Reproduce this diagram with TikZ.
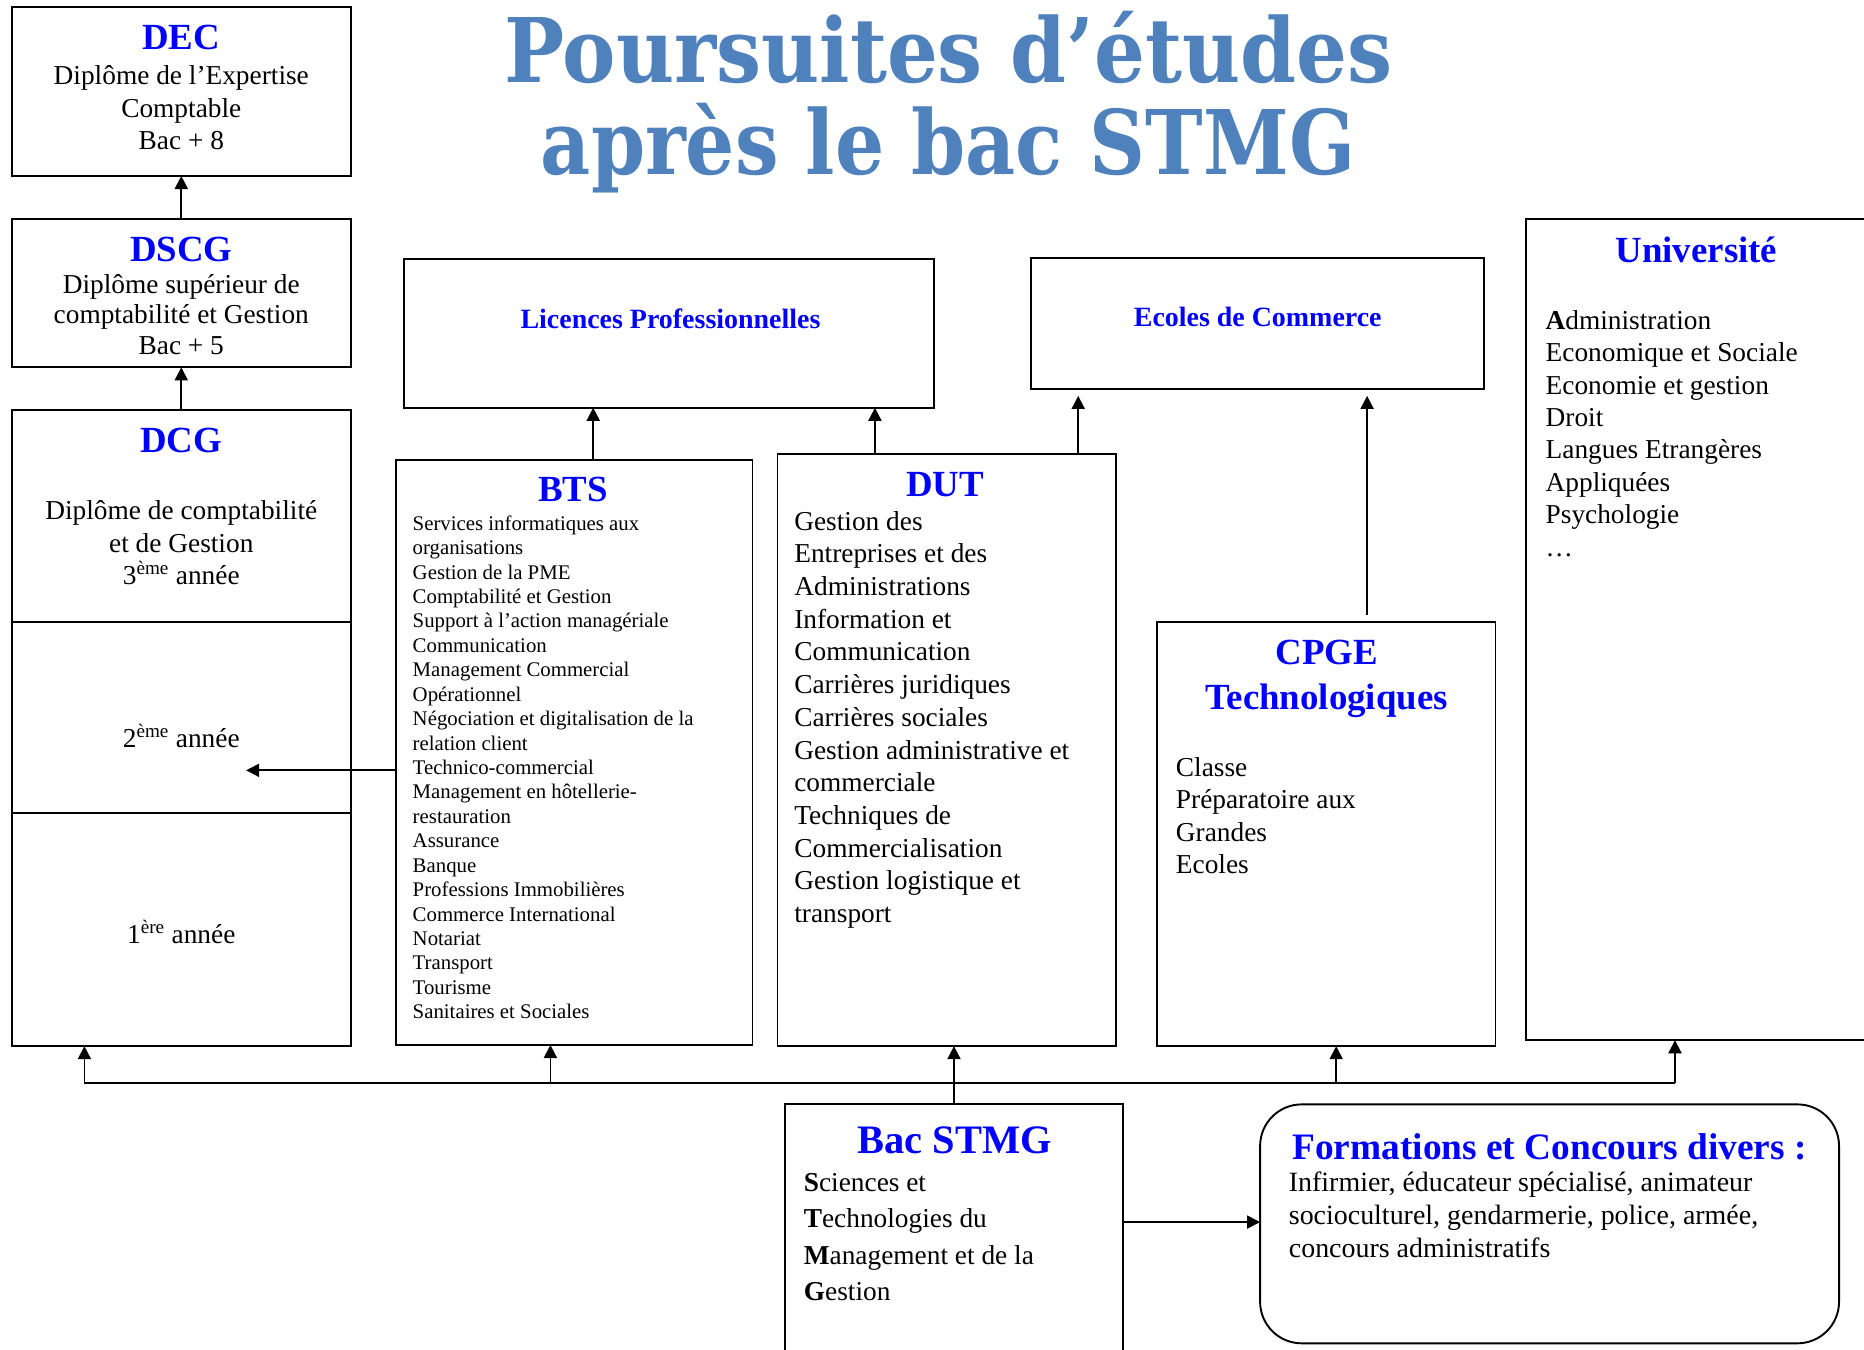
\documentclass[tikz,border=0pt]{standalone}
\usepackage{fontspec}
\usepackage{graphicx}
\setmainfont{Liberation Serif}
\newfontfamily\titlefont{DejaVu Serif}
\usetikzlibrary{arrows.meta}
\definecolor{hblue}{RGB}{0,0,255}
\definecolor{tblue}{RGB}{79,129,189}
\begin{document}
\begin{tikzpicture}[x=1pt,y=-1pt,
  box/.style={draw, line width=1.6pt, inner sep=0pt, outer sep=0pt, anchor=north west, rectangle},
  hd/.style={text=hblue, font=\fontsize{31}{34}\selectfont\bfseries, inner sep=0pt, anchor=base},
  hds/.style={text=hblue, font=\fontsize{23.5}{27}\selectfont\bfseries, inner sep=0pt, anchor=base},
  body/.style={font=\fontsize{23}{27.5}\selectfont, inner sep=0pt},
  small/.style={font=\fontsize{17.5}{20.55}\selectfont, inner sep=0pt},
  arr/.style={line width=1.5pt, -{Triangle[length=11pt,width=11pt]}},
  ln/.style={line width=1.5pt}]
\path[use as bounding box] (0,0) rectangle (1568,1135);
\clip (0,0) rectangle (1568,1135);
\fill[white] (0,0) rectangle (1568,1135);

% title
\node[inner sep=0pt, anchor=base, text=tblue] (title1) at (798,69)
  {\resizebox{747pt}{\height}{\titlefont\fontsize{75}{80}\selectfont\bfseries Poursuites d’études}};
\node[inner sep=0pt, anchor=base, text=tblue] (title2) at (797.5,147)
  {\resizebox{685pt}{\height}{\titlefont\fontsize{75}{80}\selectfont\bfseries après le bac STMG}};

% boxes
\node[box, minimum width=285pt, minimum height=142pt] (dec) at (10,6) {};
\node[box, minimum width=285pt, minimum height=125pt] (dscg) at (10,184) {};
\node[box, minimum width=285pt, minimum height=535pt] (dcg) at (10,345) {};
\node[box, minimum width=446pt, minimum height=125pt] (lic) at (340,218) {};
\node[box, minimum width=381pt, minimum height=110pt] (ecol) at (867,217) {};
\node[box, minimum width=300pt, minimum height=492pt] (bts) at (333,387) {};
\node[box, minimum width=285pt, minimum height=498pt] (dut) at (654,382) {};
\node[box, minimum width=285pt, minimum height=357pt] (cpge) at (973,523) {};
\node[box, minimum width=330pt, minimum height=691pt] (univ) at (1284,184) {};
\node[box, minimum width=285pt, minimum height=260pt] (bac) at (660,929) {};
\node[box, rounded corners=35pt, minimum width=487pt, minimum height=201pt] (form) at (1060,929) {};

% DCG dividers
\coordinate (d1) at (0,523);
\coordinate (d2) at (0,684);
\draw[line width=1.6pt] (dcg.west |- d1) -- (dcg.east |- d1);
\draw[line width=1.6pt] (dcg.west |- d2) -- (dcg.east |- d2);

% texts: DEC (multi-line nodes are anchored on the baseline of their last line)
\node[hd] (tdec) at (152.5,42) {DEC};
\node[body, anchor=base, align=center] (tdecb) at (152.5,126) {Diplôme de l’Expertise\\Comptable\\Bac + 8};
% DSCG
\node[hd] (tdscg) at (152.5,220) {DSCG};
\node[body, anchor=base, align=center, font=\fontsize{23}{25.5}\selectfont] (tdscgb) at (152.5,298) {Diplôme supérieur de\\comptabilité et Gestion\\Bac + 5};
% DCG
\node[hd] (tdcg) at (152.5,381) {DCG};
\node[body, anchor=base, align=center] (tdcgb) at (152.5,492) {Diplôme de comptabilité\\et de Gestion\\3\textsuperscript{ème} année};
\node[body, anchor=base] (tdcg2) at (152.5,629) {2\textsuperscript{ème} année};
\node[body, anchor=base] (tdcg1) at (152.5,794) {1\textsuperscript{ère} année};

% Licences, Ecoles
\node[hds] (tlic) at (564,276) {Licences Professionnelles};
\node[hds] (tecol) at (1058,275) {Ecoles de Commerce};

% BTS
\node[hd] (tbts) at (482,422) {BTS};
\node[small, anchor=base west, align=left] (tbtsb) at (347,857) {Services informatiques aux\\organisations\\Gestion de la PME\\Comptabilité et Gestion\\Support à l’action managériale\\Communication\\Management Commercial\\Opérationnel\\Négociation et digitalisation de la\\relation client\\Technico-commercial\\Management en hôtellerie-\\restauration\\Assurance\\Banque\\Professions Immobilières\\Commerce International\\Notariat\\Transport\\Tourisme\\Sanitaires et Sociales};

% DUT
\node[hd] (tdut) at (795,418) {DUT};
\node[body, anchor=base west, align=left] (tdutb) at (668,776) {Gestion des\\Entreprises et des\\Administrations\\Information et\\Communication\\Carrières juridiques\\Carrières sociales\\Gestion administrative et\\commerciale\\Techniques de\\Commercialisation\\Gestion logistique et\\transport};

% CPGE
\node[hd] (tcpge) at (1116,559) {CPGE};
\node[hd] (tcpge2) at (1116,597) {Technologiques};
\node[body, anchor=base west, align=left, font=\fontsize{23}{27.3}\selectfont] (tcpgeb) at (989,735) {Classe\\Préparatoire aux\\Grandes\\Ecoles};

% Université
\node[hd] (tuniv) at (1427,221) {Université};
\node[body, anchor=base west, align=left, font=\fontsize{23}{27.3}\selectfont] (tunivb) at (1300,468) {\textbf{A}dministration\\Economique et Sociale\\Economie et gestion\\Droit\\Langues Etrangères\\Appliquées\\Psychologie\\\ldots};

% Bac STMG
\node[hd, font=\fontsize{34}{36}\selectfont\bfseries] (tbac) at (803,970) {Bac STMG};
\node[body, anchor=base west, align=left, font=\fontsize{23}{30.7}\selectfont] (tbacb) at (676,1094) {\textbf{S}ciences et\\\textbf{T}echnologies du\\\textbf{M}anagement et de la\\\textbf{G}estion};

% Formations
\node[hd, anchor=base west, font=\fontsize{31.4}{33}\selectfont\bfseries] (tform) at (1087,975) {Formations et Concours divers :};
\node[body, anchor=base west, align=left, font=\fontsize{23.5}{28}\selectfont] (tformb) at (1084,1058) {Infirmier, éducateur spécialisé, animateur\\socioculturel, gendarmerie, police, armée,\\concours administratifs};

% connectors
\draw[arr] (dscg.north) -- (dec.south);
\draw[arr] (dcg.north) -- (dscg.south);
\coordinate (xa) at (499,0);
\coordinate (xb) at (736,0);
\coordinate (xc) at (907,333);
\coordinate (xd) at (1150,333);
\coordinate (xe) at (1150,517);
\draw[arr] (bts.north -| xa) -- (lic.south -| xa);
\draw[arr] (dut.north -| xb) -- (lic.south -| xb);
\draw[arr] (dut.north -| xc) -- (xc);
\draw[arr] (xe) -- (xd);
\coordinate (c2) at (207,648);
\draw[arr] (c2 -| bts.west) -- (c2);
% bus
\coordinate (j1) at (71,911);
\coordinate (j2) at (463,911);
\coordinate (j4) at (1124,911);
\coordinate (j5) at (1409,911);
\draw[ln] (j1) -- (j5);
\draw[arr] (j1) -- (dcg.south -| j1);
\draw[arr] (j2) -- (bts.south -| j2);
\draw[arr] (j4) -- (cpge.south -| j4);
\draw[arr] (j5) -- (univ.south -| j5);
\draw[arr] (bac.north) -- (dut.south -| bac.north);
\coordinate (c3) at (0,1028);
\draw[arr] (bac.east |- c3) -- (form.west |- c3);
\end{tikzpicture}
\end{document}
